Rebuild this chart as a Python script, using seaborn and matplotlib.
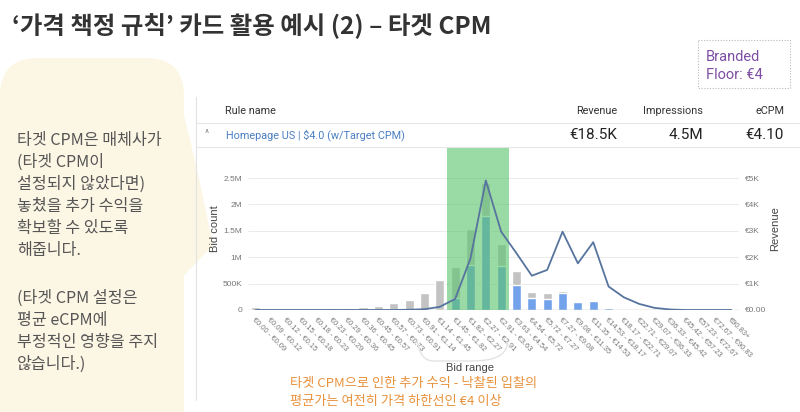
import matplotlib
matplotlib.use("Agg")
import matplotlib.pyplot as plt
import matplotlib.transforms as mtransforms
from matplotlib.patches import FancyBboxPatch, Polygon, Rectangle, PathPatch
from matplotlib.path import Path
from matplotlib.lines import Line2D
import seaborn as sns
import pandas as pd

# ---------------- data ----------------
bid_ranges = [
    "€0.00 - €0.09", "€0.09 - €0.12", "€0.12 - €0.15", "€0.15 - €0.18",
    "€0.18 - €0.23", "€0.23 - €0.29", "€0.29 - €0.36", "€0.36 - €0.45",
    "€0.45 - €0.57", "€0.57 - €0.73", "€0.73 - €0.91", "€0.91 - €1.14",
    "€1.14 - €1.45", "€1.45 - €1.82", "€1.82 - €2.27", "€2.27 - €2.91",
    "€2.91 - €3.63", "€3.63 - €4.54", "€4.54 - €5.72", "€5.72 - €7.27",
    "€7.27 - €9.08", "€9.08 - €11.35", "€11.35 - €14.53", "€14.53 - €18.17",
    "€18.17 - €22.71", "€22.71 - €29.07", "€29.07 - €36.33", "€36.33 - €45.42",
    "€45.42 - €57.23", "€57.23 - €72.67", "€72.67 - €90.83", "€90.83+",
]
total_bids = [50e3, 0, 0, 8e3, 12e3, 38e3, 38e3, 50e3, 76e3, 127e3, 196e3, 316e3,
              570e3, 823e3, 1530e3, 2410e3, 1255e3, 740e3, 348e3, 316e3, 367e3,
              152e3, 177e3, 38e3, 12e3, 0, 0, 0, 0, 0, 0, 0]
won_bids = [0, 0, 0, 0, 0, 0, 0, 0, 0, 0, 0, 0,
            0, 220e3, 855e3, 1785e3, 842e3, 475e3, 234e3, 203e3, 316e3,
            152e3, 177e3, 38e3, 12e3, 0, 0, 0, 0, 0, 0, 0]
revenue = [0, 0, 0, 0, 0, 0, 0, 0, 0, 0, 10, 30,
           120, 420, 1960, 4910, 2970, 2150, 1300, 1520, 2970,
           1770, 2570, 890, 480, 230, 80, 20, 0, 0, 0, 0]
target_cpm_bins = ["€1.45 - €1.82", "€2.91 - €3.63"]

left_ticks = [0, 500e3, 1e6, 1.5e6, 2e6, 2.5e6]
left_tick_labels = ["0", "500K", "1M", "1.5M", "2M", "2.5M"]
right_ticks = [0, 1000, 2000, 3000, 4000, 5000]
right_tick_labels = ["€0.00", "€1K", "€2K", "€3K", "€4K", "€5K"]

title = "‘가격 책정 규칙’ 카드 활용 예시 (2) – 타겟 CPM"
bubble_lines = ["타겟 CPM은 매체사가", "(타겟 CPM이", "설정되지 않았다면)",
                "놓쳤을 추가 수익을", "확보할 수 있도록", "해줍니다.", "",
                "(타겟 CPM 설정은", "평균 eCPM에", "부정적인 영향을 주지", "않습니다.)"]
note_lines = ["타겟 CPM으로 인한 추가 수익 - 낙찰된 입찰의",
              "평균가는 여전히 가격 하한선인 €4 이상"]
table_header = ["Rule name", "Revenue", "Impressions", "eCPM"]
table_row = ["Homepage US | $4.0 (w/Target CPM)", "€18.5K", "4.5M", "€4.10"]

df = pd.DataFrame({"range": bid_ranges, "total": total_bids,
                   "won": won_bids, "revenue": revenue})

# ---------------- figure ----------------
W, H = 800, 412
sns.set_theme(style="white")
plt.rcParams["font.family"] = ["Noto Sans CJK KR", "DejaVu Sans"]
fig = plt.figure(figsize=(W / 100, H / 100), dpi=100)
fig.patch.set_facecolor("white")
T = mtransforms.Affine2D().scale(1, -1).translate(0, H)  # pixel coords, origin top-left

KR = ["Noto Sans CJK KR", "DejaVu Sans"]
UI = ["Roboto", "DejaVu Sans"]
AR = ["Liberation Sans", "DejaVu Sans"]

# speech bubble
bubble = FancyBboxPatch((0, 58), 184, 400, boxstyle="round,pad=0,rounding_size=38",
                        transform=T, facecolor="#fcf6e4", edgecolor="none", zorder=0)
fig.add_artist(bubble)
tail_path = Path([(180, 100), (196, 160), (213, 246), (196, 262), (180, 280), (180, 100)],
                 [Path.MOVETO, Path.CURVE3, Path.CURVE3, Path.CURVE3, Path.CURVE3, Path.CLOSEPOLY])
fig.add_artist(PathPatch(tail_path, transform=T, facecolor="#fcf6e4", edgecolor="none", zorder=0))

# table frame lines
fig.add_artist(Line2D([196, 196], [97, 400], transform=T, color="#e2e2e2", lw=0.8))
fig.add_artist(Line2D([196, 800], [123, 123], transform=T, color="#e6e6e6", lw=0.8))
fig.add_artist(Line2D([196, 800], [147, 147], transform=T, color="#e6e6e6", lw=0.8))

# ---------------- chart ----------------
ax_l, ax_r, ax_t, ax_b = 248, 739, 147, 310
ax = fig.add_axes([ax_l / W, 1 - ax_b / H, (ax_r - ax_l) / W, (ax_b - ax_t) / H])
ax.set_facecolor("none")

sns.barplot(data=df, x="range", y="total", order=bid_ranges, color="#c3c3c3",
            width=0.6, saturation=1, ax=ax, zorder=2)
sns.barplot(data=df, x="range", y="won", order=bid_ranges, color="#72a2ea",
            width=0.6, saturation=1, ax=ax, zorder=3)

ax.set_ylim(0, 3.09e6)
ax.set_xlim(-0.5, len(bid_ranges) - 0.5)
ax.set_yticks(left_ticks)
ax.set_yticklabels(left_tick_labels, family=AR, fontsize=6, color="#777777")
ax.set_xticks(range(len(bid_ranges)))
ax.set_xticklabels(bid_ranges, rotation=-45, ha="left", va="top",
                   rotation_mode="anchor", family=AR, fontsize=5.4, color="#777777")
ax.tick_params(axis="both", length=0, pad=4)
ax.tick_params(axis="x", pad=5)
ax.grid(axis="y", color="#ebebeb", lw=0.7, zorder=0)
ax.grid(axis="x", visible=False)
for s in ax.spines.values():
    s.set_visible(False)
ax.axhline(0, color="#9a9a9a", lw=0.9, zorder=4)
ax.set_xlabel("")
ax.set_ylabel("Bid count", family=AR, fontsize=8, color="#444444", labelpad=2)

# highlighted target CPM range
i0 = bid_ranges.index(target_cpm_bins[0])
i1 = bid_ranges.index(target_cpm_bins[1])
ax.axvspan(i0 - 0.5, i1 + 0.5, color="#5cc46f", alpha=0.62, lw=0, zorder=5)

ax2 = ax.twinx()
sns.lineplot(data=df, x="range", y="revenue", color="#56749e", lw=1.3, ax=ax2,
             sort=False)
ax2.set_ylim(0, 6.18e3)
ax2.set_xlim(-0.5, len(bid_ranges) - 0.5)
ax2.set_yticks(right_ticks)
ax2.set_yticklabels(right_tick_labels, family=AR, fontsize=6, color="#777777")
ax2.tick_params(axis="y", length=0, pad=4)
ax2.grid(False)
for s in ax2.spines.values():
    s.set_visible(False)
ax2.set_ylabel("Revenue", family=AR, fontsize=8, color="#444444", labelpad=3)
ax2.set_xlabel("")

# brace + axis title
brace = Path([(417, 340), (420, 360), (432, 361), (470, 361), (495, 361), (506, 356), (508, 342)],
             [Path.MOVETO, Path.CURVE3, Path.CURVE3, Path.LINETO, Path.CURVE4, Path.CURVE4, Path.CURVE4])
fig.add_artist(PathPatch(brace, transform=T, facecolor="none", edgecolor="#e3e3e3", lw=1))
fig.text(470, 368, "Bid range", transform=T, family=AR, fontsize=8, color="#444444",
         ha="center", va="center")

# ---------------- slide texts ----------------
fig.text(12, 26, title, transform=T, family=KR, fontsize=17.6, fontweight="bold",
         color="#333333", ha="left", va="center")

fig.add_artist(Rectangle((698, 40), 92, 48, transform=T, facecolor="none",
                         edgecolor="#b9b9b9", lw=0.8, ls=(0, (1, 1.5))))
fig.text(706, 57, "Branded", transform=T, family=UI, fontsize=10.5, color="#7d4ea3",
         ha="left", va="center")
fig.text(706, 75, "Floor: €4", transform=T, family=UI, fontsize=10.5, color="#7d4ea3",
         ha="left", va="center")

y = 140
for line in bubble_lines:
    if line:
        fig.text(17, y, line, transform=T, family=KR, fontsize=11.6, color="#555555",
                 ha="left", va="center")
    y += 22 if line else 26

# table
fig.text(225, 111, table_header[0], transform=T, family=UI, fontsize=7.8, color="#333333",
         va="center")
for txt, xr in zip(table_header[1:], [617, 703, 784]):
    fig.text(xr, 111, txt, transform=T, family=UI, fontsize=7.8, color="#333333",
             ha="right", va="center")
fig.text(207, 134, "^", transform=T, family=UI, fontsize=7, color="#888888",
         ha="center", va="center")
fig.text(226, 135, table_row[0], transform=T, family=UI, fontsize=7.8, color="#4a7fc2",
         va="center")
for txt, xr in zip(table_row[1:], [617, 703, 784]):
    fig.text(xr, 135, txt, transform=T, family=UI, fontsize=11, color="#222222",
             ha="right", va="center")

# orange note
for k, line in enumerate(note_lines):
    fig.text(290, 384 + 17 * k, line, transform=T, family=KR, fontsize=9.5,
             color="#e8923c", ha="left", va="center")

fig.savefig("out.png", dpi=100)
